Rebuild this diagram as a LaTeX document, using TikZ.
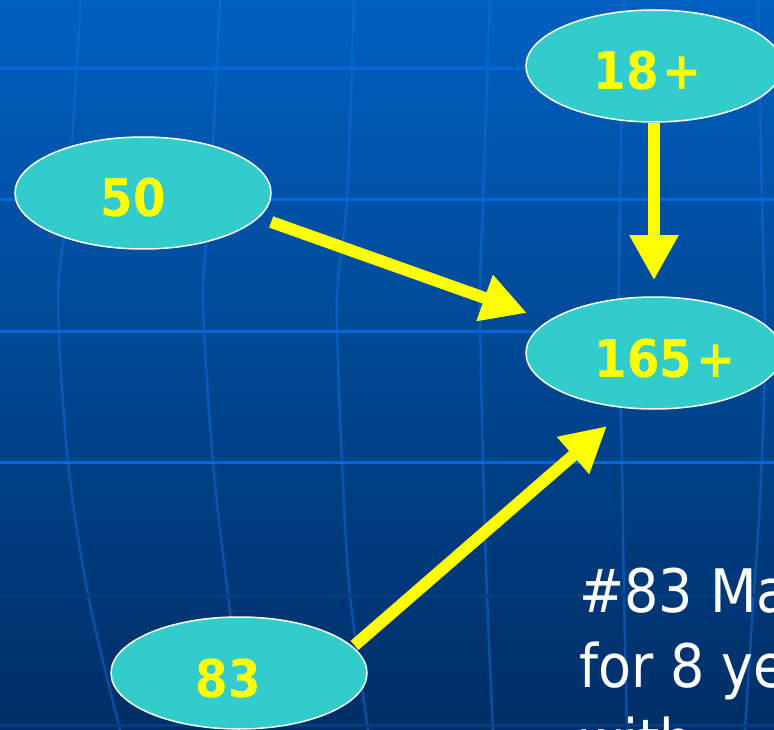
\documentclass[tikz,border=0pt]{standalone}
\usepackage{fontspec}
\newfontfamily\condfont{DejaVu Sans Condensed}
\usetikzlibrary{shapes.geometric,arrows.meta}

\definecolor{bgtop}{RGB}{0,96,192}
\definecolor{bgbot}{RGB}{0,46,102}
\definecolor{gridbright}{RGB}{0,104,216}
\definecolor{gridfaint}{RGB}{0,62,132}
\definecolor{meridian}{RGB}{20,110,215}
\definecolor{bubblefill}{RGB}{51,204,204}
\definecolor{numyellow}{RGB}{255,255,0}

\tikzset{
  bubble/.style={ellipse, fill=bubblefill, draw=white, line width=1.5pt,
    minimum width=256pt, minimum height=112pt, inner sep=0pt,
    text=numyellow, font=\condfont\bfseries\fontsize{52}{52}\selectfont,
    text height=48pt, text depth=0pt},
  flow/.style={draw=numyellow, line width=12pt,
    -{Triangle[length=45pt,width=46pt]}},
  latline/.style={line width=3pt},
  lonline/.style={draw=meridian, opacity=0.5, line width=2.5pt},
  caption/.style={text=white, anchor=base west, inner sep=0pt,
    font=\condfont\fontsize{60}{75}\selectfont}
}

\begin{document}
\begin{tikzpicture}[x=1pt,y=-1pt]
  \useasboundingbox (0,0) rectangle (774,730);
  \clip (0,0) rectangle (774,730);

  % globe background
  \shade[top color=bgtop, bottom color=bgbot] (0,0) rectangle (774,730);

  % meridians
  \draw[lonline] plot[smooth] coordinates {(81,0) (68,200) (58,300) (68,462) (88,595) (120,730)};
  \draw[lonline] plot[smooth] coordinates {(220,0) (210,200) (203,300) (213,462) (228,595) (245,730)};
  \draw[lonline] plot[smooth] coordinates {(354,0) (347,200) (337,300) (342,462) (350,595) (368,730)};
  \draw[lonline] plot[smooth] coordinates {(490,0) (483,200) (480,300) (483,462) (487,595) (493,730)};
  \draw[lonline] plot[smooth] coordinates {(624,0) (620,200) (619,330) (622,462) (624,595) (627,730)};
  \draw[lonline] plot[smooth] coordinates {(758,0) (762,200) (765,350) (760,500) (752,620) (745,730)};

  % parallels
  \draw[latline, gridbright] (0,69) -- (774,69);
  \draw[latline, gridbright] (0,200) -- (774,200);
  \draw[latline, gridbright] (0,331) -- (774,331);
  \draw[latline, gridbright] (0,462) -- (774,462);
  \draw[latline, gridfaint] (0,595) -- (774,595);
  \draw[latline, gridfaint] (0,725) -- (774,725);

  % bubbles
  \node[bubble] (n18)  at (654,66)  {\kern-12pt 18\kern4pt+};
  \node[bubble] (n50)  at (143,193) {\kern-20pt 50};
  \node[bubble] (n165) at (654,353) {165\kern4pt+\kern-22pt};
  \node[bubble] (n83)  at (239,673) {\kern-22pt 83};

  % arrow tips
  \coordinate (tip50) at (527,313);
  \coordinate (tip83) at (607,426);

  % arrows
  \draw[flow, shorten >=16pt] (n18) -- (n165);
  \draw[flow, shorten <=13pt] (n50.-12) -- (tip50);
  \draw[flow, shorten <=2pt] (n83.13) -- (tip83);

  % caption
  \node[caption] (l1) at (579,612) {\#83 Ma};
  \node[caption] (l2) at (579,687) {for 8 ye};
  \node[caption] (l3) at (579,762) {with};
\end{tikzpicture}
\end{document}
